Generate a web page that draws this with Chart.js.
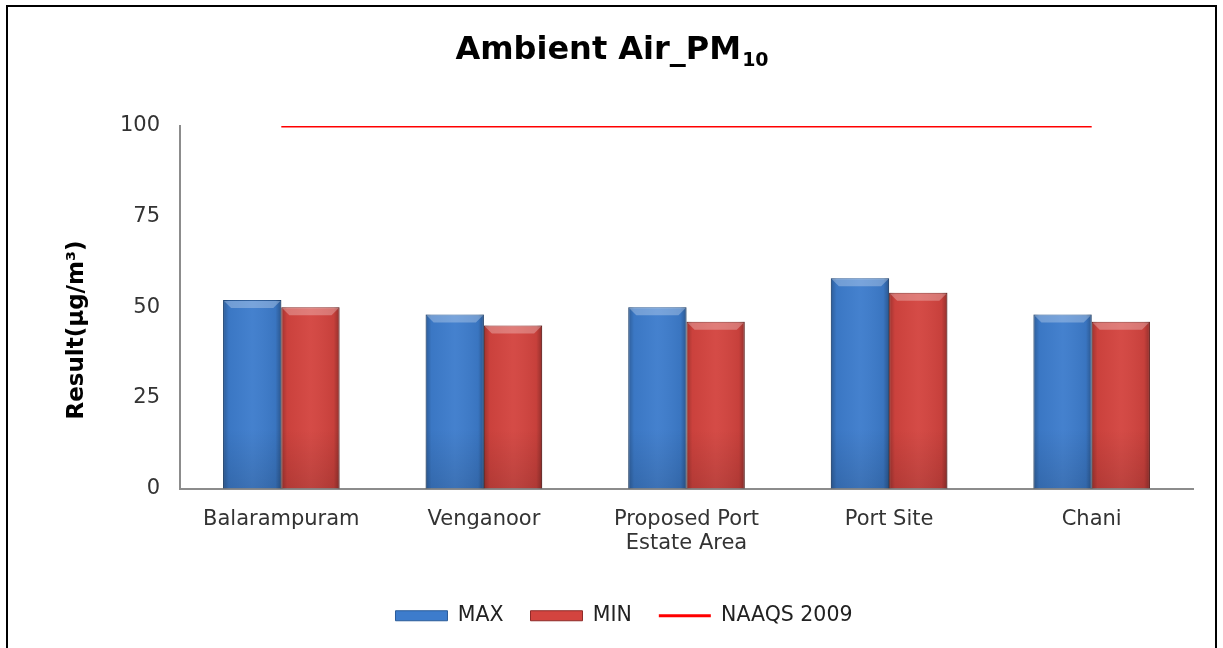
<!DOCTYPE html>
<html>
<head>
<meta charset="utf-8">
<script src="https://cdn.jsdelivr.net/npm/chart.js@4"></script>
<style>
html, body { margin: 0; padding: 0; background: #fff; overflow: hidden; }
#frame { position: absolute; left: 6px; top: 5px; width: 1207px; height: 700px; border: 2px solid #000; }
#chart { position: absolute; left: 0; top: 0; }
</style>
</head>
<body>
<div id="frame"></div>
<canvas id="chart" width="1223" height="648"></canvas>
<script>
const sites = ['Balarampuram', 'Venganoor', ['Proposed Port', 'Estate Area'], 'Port Site', 'Chani'];
const max_values = [52, 48, 50, 58, 48];
const min_values = [50, 45, 46, 54, 46];
const naaqs_limit = [100, 100, 100, 100, 100];
const y_ticks = [0, 25, 50, 75, 100];

const font_family = '"DejaVu Sans", Verdana, sans-serif';

// title with subscript + y axis title, drawn by hand
// (Chart.js titles have no subscripts and the axis title sits a bit low in the original)
const titlePlugin = {
    id: 'pmTitle',
    afterDraw(chart) {
        const ctx = chart.ctx;
        const main = 'Ambient Air_PM';
        const sub = '10';
        ctx.save();
        ctx.fillStyle = '#000';
        ctx.textBaseline = 'alphabetic';
        ctx.font = 'bold 32px ' + font_family;
        const w1 = ctx.measureText(main).width;
        ctx.font = 'bold 19px ' + font_family;
        const w2 = ctx.measureText(sub).width;
        const x0 = chart.width / 2 - (w1 + w2) / 2;
        ctx.font = 'bold 32px ' + font_family;
        ctx.fillText(main, x0, 59);
        ctx.font = 'bold 19px ' + font_family;
        ctx.fillText(sub, x0 + w1 + 1, 66);

        // y axis title
        ctx.translate(77, 330);
        ctx.rotate(-Math.PI / 2);
        ctx.textAlign = 'center';
        ctx.textBaseline = 'middle';
        ctx.font = 'bold 23px ' + font_family;
        ctx.fillText('Result(µg/m³)', 0, 0);
        ctx.restore();
    }
};

// some shading on the bars so they look a bit like the office bevel style
const bevelPlugin = {
    id: 'bevel',
    afterDatasetDraw(chart, args) {
        if (args.meta.type !== 'bar') return;
        const ctx = chart.ctx;
        ctx.save();
        args.meta.data.forEach((bar) => {
            const p = bar.getProps(['x', 'y', 'base', 'width'], true);
            const left = p.x - p.width / 2;
            const right = p.x + p.width / 2;
            const top = p.y;
            const h = p.base - p.y;
            let g = ctx.createLinearGradient(left, 0, right, 0);
            g.addColorStop(0, 'rgba(0,0,0,0.25)');
            g.addColorStop(0.1, 'rgba(0,0,0,0.04)');
            g.addColorStop(0.5, 'rgba(255,255,255,0.04)');
            g.addColorStop(0.9, 'rgba(0,0,0,0.06)');
            g.addColorStop(1, 'rgba(0,0,0,0.3)');
            ctx.fillStyle = g;
            ctx.fillRect(left, top, p.width, h);
            // lighter top bevel
            ctx.fillStyle = 'rgba(255,255,255,0.28)';
            ctx.beginPath();
            ctx.moveTo(left + 1, top + 1);
            ctx.lineTo(right - 1, top + 1);
            ctx.lineTo(right - 8, top + 8);
            ctx.lineTo(left + 8, top + 8);
            ctx.closePath();
            ctx.fill();
            // darker bottom
            let gb = ctx.createLinearGradient(0, p.base - 60, 0, p.base);
            gb.addColorStop(0, 'rgba(0,0,0,0)');
            gb.addColorStop(1, 'rgba(0,0,0,0.12)');
            ctx.fillStyle = gb;
            ctx.fillRect(left, p.base - Math.min(60, h), p.width, Math.min(60, h));
        });
        ctx.restore();
    }
};

const ctx_chart = document.getElementById('chart').getContext('2d');

const data_pm = {
    labels: sites,
    datasets: [{
        type: 'line',
        label: 'NAAQS 2009',
        data: naaqs_limit,
        borderColor: '#ff0000',
        backgroundColor: '#ff0000',
        borderWidth: 3,
        pointRadius: 0,
        pointStyle: 'line',
        fill: false,
        order: 0
    }, {
        label: 'MAX',
        data: max_values,
        backgroundColor: '#3d7ccc',
        borderColor: '#2b5c9a',
        borderWidth: 1,
        pointStyle: 'rect',
        categoryPercentage: 0.575,
        barPercentage: 1.0,
        order: 1
    }, {
        label: 'MIN',
        data: min_values,
        backgroundColor: '#d3443f',
        borderColor: '#8e2b28',
        borderWidth: 1,
        pointStyle: 'rect',
        categoryPercentage: 0.575,
        barPercentage: 1.0,
        order: 2
    }]
};

const config_pm = {
    type: 'bar',
    data: data_pm,
    plugins: [bevelPlugin, titlePlugin],
    options: {
        responsive: false,
        animation: false,
        layout: {
            padding: { top: 126, left: 55, right: 30, bottom: 12 }
        },
        plugins: {
            title: { display: false },
            tooltip: { enabled: false },
            legend: {
                position: 'bottom',
                labels: {
                    usePointStyle: true,
                    pointStyleWidth: 52,
                    boxHeight: 10,
                    padding: 27,
                    color: '#222',
                    font: { family: font_family, size: 20.5 },
                    sort: (a, b) => {
                        const order = ['MAX', 'MIN', 'NAAQS 2009'];
                        return order.indexOf(a.text) - order.indexOf(b.text);
                    }
                }
            }
        },
        scales: {
            x: {
                grid: { display: false, drawTicks: false },
                border: { display: true, color: '#8c8c8c', width: 2 },
                ticks: {
                    color: '#333',
                    padding: 19,
                    maxRotation: 0,
                    autoSkip: false,
                    font: { family: font_family, size: 21, lineHeight: 1.15 }
                },
                afterFit: function (scale) {
                    scale.height = 90;
                }
            },
            y: {
                min: 0,
                max: 100,
                afterBuildTicks: function (scale) {
                    scale.ticks = y_ticks.map((v) => ({ value: v }));
                },
                grid: { display: false, drawTicks: false },
                border: { display: true, color: '#8c8c8c', width: 2 },
                ticks: {
                    color: '#333',
                    padding: 20,
                    font: { family: font_family, size: 21 }
                },
                title: { display: false },
                afterFit: function (scale) {
                    scale.width = 125;
                }
            }
        }
    }
};

const chart_pm = new Chart(ctx_chart, config_pm);
</script>
</body>
</html>
